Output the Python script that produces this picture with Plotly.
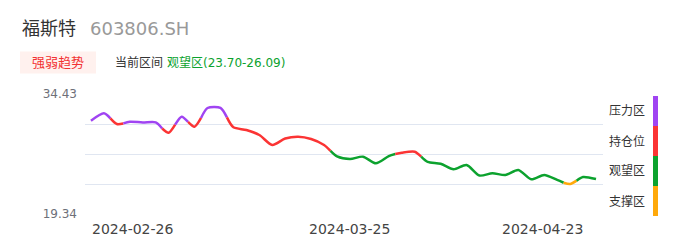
import plotly.graph_objects as go

# ---------------- data ----------------
dates = [
    "2024-02-26", "2024-02-27", "2024-02-28", "2024-02-29", "2024-03-01",
    "2024-03-04", "2024-03-05", "2024-03-06", "2024-03-07", "2024-03-08",
    "2024-03-11", "2024-03-12", "2024-03-13", "2024-03-14", "2024-03-15",
    "2024-03-18", "2024-03-19", "2024-03-20", "2024-03-21", "2024-03-22",
    "2024-03-25", "2024-03-26", "2024-03-27", "2024-03-28", "2024-03-29",
    "2024-04-01", "2024-04-02", "2024-04-03",
    "2024-04-08", "2024-04-09", "2024-04-10", "2024-04-11", "2024-04-12",
    "2024-04-15", "2024-04-16", "2024-04-17", "2024-04-18", "2024-04-19",
    "2024-04-22", "2024-04-23",
]
prices = [
    31.07, 32.00, 30.66, 30.95, 30.85, 30.87, 29.56, 31.58, 30.32, 32.67,
    32.69, 30.24, 29.90, 29.27, 28.02, 28.83, 29.06, 28.77, 28.02, 26.60,
    26.26, 26.55, 25.72, 26.63, 27.05, 27.17, 25.89, 25.65, 24.96, 25.50,
    24.18, 24.46, 24.24, 24.87, 23.70, 24.24, 23.62, 23.11, 23.99, 23.74,
]
# zone of each day: P=压力区, H=持仓位, W=观望区, S=支撑区
zones = list("PPHPPPHPHPP" + "HHHHHHHH" + "WWWWW" + "HH" + "WWWWWWWWWWW" + "S" + "WW")

zone_names = ["压力区", "持仓位", "观望区", "支撑区"]
zone_keys = ["P", "H", "W", "S"]
zone_colors = {"P": "#A044F2", "H": "#FB3434", "W": "#0CA22E", "S": "#FFA90A"}

y_min, y_max = 19.34, 34.43
title_name = "福斯特"
title_code = "603806.SH"
badge_text = "强弱趋势"
cur_label = "当前区间"
cur_zone = "观望区(23.70-26.09)"
x_tick_idx = [0, 20, 39]

# ---------------- layout helpers ----------------
W, H = 686, 247
L, R, T, B = 85, 603, 94, 214  # plot area in px


def px(xp):
    return (xp - L) / (R - L)


def py(yp):
    return (B - yp) / (B - T)


FONT = "DejaVu Sans, Noto Sans CJK SC, sans-serif"
n = len(prices)
xs = list(range(n))


def mid(i):
    # spline mid value between point i and i+1 (rendering join for colour change)
    a = prices[max(i - 1, 0)]
    b = prices[i]
    c = prices[i + 1]
    d = prices[min(i + 2, n - 1)]
    return (-a + 9 * b + 9 * c - d) / 16


fig = go.Figure()

# group contiguous runs of same zone
runs = []
start = 0
for i in range(1, n + 1):
    if i == n or zones[i] != zones[start]:
        runs.append((start, i - 1, zones[start]))
        start = i

for a, b, z in runs:
    rx, ry = [], []
    if a > 0:
        rx.append(a - 0.5)
        ry.append(mid(a - 1))
    rx += xs[a:b + 1]
    ry += prices[a:b + 1]
    if b < n - 1:
        rx.append(b + 0.5)
        ry.append(mid(b))
    fig.add_trace(go.Scatter(
        x=rx, y=ry, mode="lines",
        line=dict(color=zone_colors[z], width=2.5, shape="spline", smoothing=0.75),
        hoverinfo="skip", showlegend=False,
    ))

step = (y_max - y_min) / 4
yticks = [y_min + k * step for k in range(5)]
ytext = ["19.34", "", "", "", "34.43"]

fig.update_layout(
    width=W, height=H,
    margin=dict(l=L, r=W - R, t=T, b=H - B),
    paper_bgcolor="white", plot_bgcolor="white",
    font=dict(family=FONT),
    xaxis=dict(range=[-0.46, n - 1 + 0.54], showgrid=False, zeroline=False,
               showticklabels=False, showline=False, ticks=""),
    yaxis=dict(range=[y_min, y_max], tickvals=yticks, ticktext=ytext,
               showgrid=True, gridcolor="#E0E6F1", gridwidth=1, zeroline=False,
               showline=False, ticks="", ticklabelstandoff=7,
               tickfont=dict(size=12, color="#6E7079", family=FONT)),
)

ann = []
# x tick labels (first left-aligned, last right-aligned like the original)
aligns = ["left", "center", "right"]
shifts = [-1, 0, -11]
for k, idx in enumerate(x_tick_idx):
    ann.append(dict(x=idx, y=0, xref="x", yref="paper", text=dates[idx],
                    showarrow=False, xanchor=aligns[k], yanchor="middle",
                    xshift=shifts[k], yshift=-15,
                    font=dict(size=14, color="#444444", family=FONT)))

# header
ann.append(dict(x=px(20), y=py(29), xref="paper", yref="paper", text=title_name,
                showarrow=False, xanchor="left", yanchor="middle",
                font=dict(size=18, color="#333333", family=FONT)))
ann.append(dict(x=px(88), y=py(29), xref="paper", yref="paper", text=title_code,
                showarrow=False, xanchor="left", yanchor="middle",
                font=dict(size=18, color="#999999", family=FONT)))
ann.append(dict(x=px(58), y=py(62.5), xref="paper", yref="paper", text=badge_text,
                showarrow=False, xanchor="center", yanchor="middle",
                font=dict(size=13, color="#F23232", family=FONT)))
ann.append(dict(x=px(113), y=py(62.5), xref="paper", yref="paper", text=cur_label,
                showarrow=False, xanchor="left", yanchor="middle",
                font=dict(size=12, color="#333333", family=FONT)))
ann.append(dict(x=px(165), y=py(62.5), xref="paper", yref="paper", text=cur_zone,
                showarrow=False, xanchor="left", yanchor="middle",
                font=dict(size=12, color="#0CA22E", family=FONT)))

shapes = [dict(type="rect", xref="paper", yref="paper",
               x0=px(20), x1=px(96), y0=py(73.5), y1=py(51.5),
               fillcolor="#FFF1EE", line=dict(width=0), layer="below")]

# zone legend on the right
seg_h = 30
for k, key in enumerate(zone_keys):
    top = 96 + k * seg_h
    shapes.append(dict(type="rect", xref="paper", yref="paper",
                       x0=px(653), x1=px(658), y0=py(top + seg_h), y1=py(top),
                       fillcolor=zone_colors[key], line=dict(width=0)))
    ann.append(dict(x=px(607), y=py(top + seg_h / 2), xref="paper", yref="paper",
                    text=zone_names[k], showarrow=False, xanchor="left",
                    yanchor="middle",
                    font=dict(size=12, color="#333333", family=FONT)))

fig.update_layout(annotations=ann, shapes=shapes)
fig.write_html("out.html")
